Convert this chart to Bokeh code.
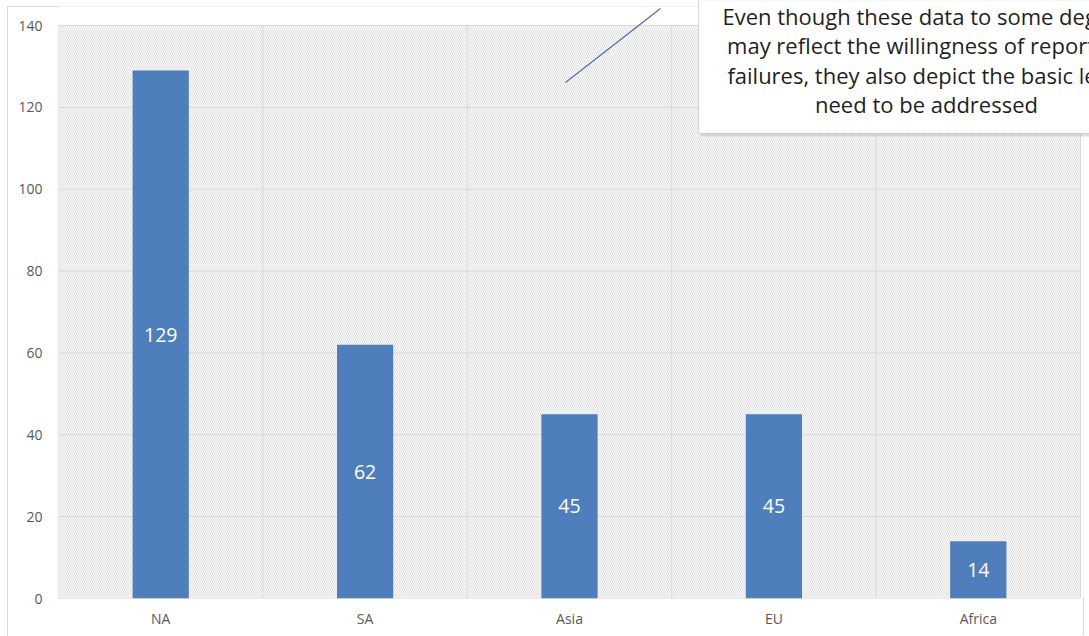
from bokeh.plotting import figure
from bokeh.models import (ColumnDataSource, FixedTicker, BoxAnnotation, Label, Arrow,
                          Range1d)
from bokeh.core.properties import value
from bokeh.embed import file_html
from bokeh.resources import INLINE

# Data
regions = ["NA", "SA", "Asia", "EU", "Africa"]
failures = [129, 62, 45, 45, 14]
y_ticks = [0, 20, 40, 60, 80, 100, 120, 140]
note_lines = [
    "Even though these data to some degree",
    "may reflect the willingness of reporting",
    "failures, they also depict the basic level",
    "need to be addressed",
]

FONT = "Open Sans"
BAR_COLOR = "#4f7ebc"
TICK_COLOR = "#595959"
GRID_COLOR = "#d9d9d9"
Y_MAX = 140

xs = list(range(len(regions)))
x_lo, x_hi = -0.5, len(regions) - 0.5
src = ColumnDataSource(dict(
    x=xs,
    top=failures,
    mid=[v / 2 for v in failures],
    label=[str(v) for v in failures],
))

# the frame reaches the top and right edges so the note box can sit there
px_per_y = (598 - 25) / Y_MAX
px_per_x = (1080 - 58) / (x_hi - x_lo)
border_css = [
    ":host::before{content:'';position:absolute;left:7px;top:6px;width:51px;height:629px;"
    "border-left:1px solid #d9d9d9;border-top:1px solid #d9d9d9;pointer-events:none;z-index:5;}",
    ":host::after{content:'';position:absolute;left:1083px;top:598px;width:0;height:37px;"
    "border-left:1px solid #d9d9d9;pointer-events:none;z-index:5;}",
]

p = figure(width=1089, height=636, output_backend="svg", toolbar_location=None,
           x_range=Range1d(x_lo, x_hi + 9 / px_per_x),
           y_range=Range1d(0, Y_MAX + 25 / px_per_y),
           min_border_left=58, min_border_right=0, min_border_top=0, min_border_bottom=38,
           stylesheets=border_css)
p.outline_line_color = None
p.background_fill_color = "white"
p.xgrid.grid_line_color = None
p.ygrid.grid_line_color = None

# hatched plot area
p.quad(left=[x_lo], right=[x_hi], bottom=[0], top=[Y_MAX],
       fill_color="#fbfbfb", line_color=None,
       hatch_pattern="left_diagonal_line", hatch_color="#e0e0e0",
       hatch_scale=4, hatch_weight=1, level="underlay")

# grid lines bounded to the plot area
p.segment(x0=[x_lo] * len(y_ticks), x1=[x_hi] * len(y_ticks), y0=y_ticks, y1=y_ticks,
          line_color=GRID_COLOR, line_width=1)
bounds = [x_lo + i for i in range(len(regions) + 1)]
p.segment(x0=bounds, x1=bounds, y0=[0] * len(bounds), y1=[Y_MAX] * len(bounds),
          line_color=GRID_COLOR, line_width=1)

p.vbar(x="x", top="top", width=0.275, source=src, fill_color=BAR_COLOR, line_color=None)
p.text(x="x", y="mid", text="label", source=src, text_color="white",
       text_font=value(FONT), text_font_size="19.5px",
       text_align="center", text_baseline="middle")

# axes
p.yaxis.ticker = FixedTicker(ticks=y_ticks)
p.xaxis.ticker = FixedTicker(ticks=xs)
p.xaxis.major_label_overrides = {i: r for i, r in zip(xs, regions)}
for ax in (p.xaxis[0], p.yaxis[0]):
    ax.axis_line_color = None
    ax.major_tick_line_color = None
    ax.minor_tick_line_color = None
    ax.major_label_text_font = FONT
    ax.major_label_text_font_size = "14px"
    ax.major_label_text_color = TICK_COLOR
p.yaxis.major_label_standoff = 10
p.xaxis.major_label_standoff = 4

# chart border (top and right edges)
p.add_layout(BoxAnnotation(left=7, right=1083, top=6, bottom=700,
                           left_units="canvas", right_units="canvas",
                           top_units="canvas", bottom_units="canvas",
                           fill_color=None, line_color="#d9d9d9", line_width=1,
                           level="overlay"))

# callout connector
p.add_layout(Arrow(end=None, x_start=565, y_start=82, x_end=660, y_end=8,
                   start_units="canvas", end_units="canvas",
                   line_color="#4a72a8", line_width=1.2))

# callout box with shadow
p.add_layout(BoxAnnotation(left=700, right=1200, top=-10, bottom=136,
                           left_units="canvas", right_units="canvas",
                           top_units="canvas", bottom_units="canvas",
                           fill_color="#9aa6b8", fill_alpha=0.35, line_color=None,
                           level="overlay"))
p.add_layout(BoxAnnotation(left=698, right=1200, top=-10, bottom=133,
                           left_units="canvas", right_units="canvas",
                           top_units="canvas", bottom_units="canvas",
                           fill_color="white", fill_alpha=1.0,
                           line_color="#7f93b2", line_width=1.2,
                           level="overlay"))
for i, line in enumerate(note_lines):
    p.add_layout(Label(x=926, y=15 + i * 29.5, x_units="canvas", y_units="canvas",
                       text=line, text_font=FONT, text_font_size="22px",
                       text_color="#1f1f1f", text_align="center",
                       text_baseline="middle", level="overlay"))

open("out.html", "w").write(file_html(p, INLINE))
